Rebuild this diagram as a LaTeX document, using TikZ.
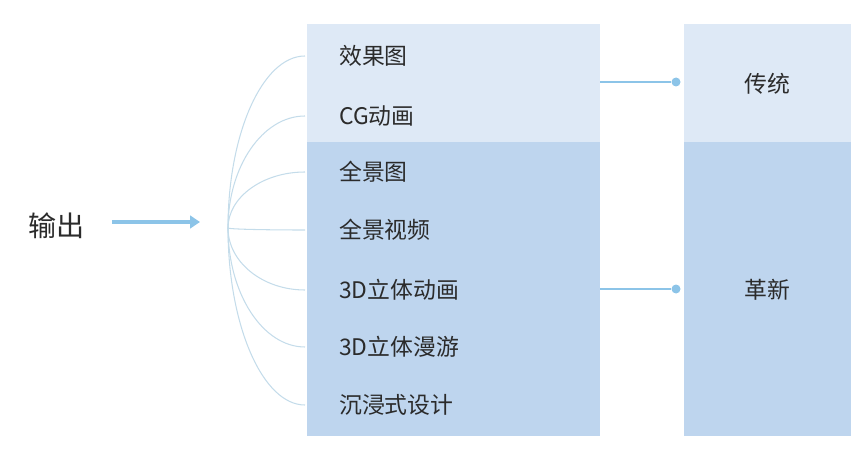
\documentclass[tikz,border=0pt]{standalone}
\usepackage{fontspec}
\newfontfamily\cjk{Noto Sans CJK SC}
\usetikzlibrary{arrows.meta,calc}
\definecolor{paleblue}{HTML}{DEE9F6}
\definecolor{midblue}{HTML}{BED5EE}
\definecolor{linkblue}{HTML}{8CC4E8}
\definecolor{fanblue}{HTML}{C4DCEA}
\definecolor{textgray}{HTML}{2B2B2B}
\tikzset{
  item/.style={anchor=west, inner sep=0pt, font=\cjk\fontsize{19.5}{22}\selectfont},
  tag/.style={inner sep=0pt, font=\cjk\fontsize{19.5}{22}\selectfont},
  fan/.style={fanblue, line width=0.9pt},
  link/.style={linkblue, line width=2pt},
  dot/.style={circle, fill=linkblue, inner sep=0pt, minimum size=9*0.03cm}
}
\begin{document}
\begin{tikzpicture}[x=0.03cm, y=-0.03cm, every node/.style={text=textgray}]
  \useasboundingbox (0,0) rectangle (867,452);
  % columns
  \fill[paleblue] (307,24) rectangle (600,142);
  \fill[midblue] (307,142) rectangle (600,436);
  \fill[paleblue] (684,24) rectangle (851,142);
  \fill[midblue] (684,142) rectangle (851,436);

  % items and fan
  \coordinate (hub) at (228,228);
  \foreach \y/\lab/\nm in {56/效果图/a,116/CG动画/b,172/全景图/c,230/全景视频/d,
                           290/3D立体动画/e,347/3D立体漫游/f,405/沉浸式设计/g} {
    \node[item] (\nm) at (339,\y) {\lab};
    \coordinate (e\nm) at (305,\y);
    \draw[fan] (hub) .. controls ($(hub)!0.55!(hub |- e\nm)$)
                     and ($(e\nm)!0.55!(hub |- e\nm)$) .. (e\nm);
  }

  % input
  \node[tag, font=\cjk\fontsize{24}{28}\selectfont] (out) at (57,226) {输出};
  \coordinate (tip) at (200,222);
  \draw[linkblue, line width=2.6pt, shorten <=27*0.03cm,
        -{Triangle[length=3mm, width=3.8mm]}] (out.east |- tip) -- (tip);

  % right side
  \node[tag] (trad) at (767,84) {传统};
  \node[tag] (innov) at (767,290) {革新};
  \coordinate (s1) at (600,82);
  \coordinate (s2) at (600,289);
  \node[dot] (d1) at (676,82) {};
  \node[dot] (d2) at (676,289) {};
  \draw[link] (s1) -- (d1);
  \draw[link] (s2) -- (d2);
\end{tikzpicture}
\end{document}
